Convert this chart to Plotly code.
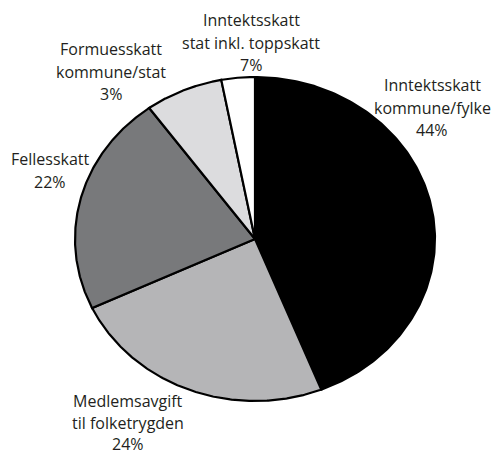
import numpy as np
import plotly.graph_objects as go

categories = ["Inntektsskatt kommune/fylke", "Medlemsavgift til folketrygden",
              "Fellesskatt", "Inntektsskatt stat inkl. toppskatt",
              "Formuesskatt kommune/stat"]
values = [44, 24, 22, 7, 3]
label_lines = [["Inntektsskatt", "kommune/fylke", "44%"],
               ["Medlemsavgift", "til folketrygden", "24%"],
               ["Fellesskatt", "22%"],
               ["Inntektsskatt", "stat inkl. toppskatt", "7%"],
               ["Formuesskatt", "kommune/stat", "3%"]]
colors = ["#000000", "#b5b5b7", "#78797b", "#dcdcde", "#ffffff"]

W, H = 498, 455
cx, cy = 255, 239      # pie centre in pixels
rx, ry = 180, 162      # horizontal / vertical radius in pixels

# label centres (pixels) and line spacing
label_pos = [(432, 85), (128, 401), (50, 159), (251, 20), (111, 49)]
line_gaps = [22.5, 21.5, 22.5, 22.5, 22.5]

fig = go.Figure()
total = sum(values)
start = 90.0
for cat, v, col in zip(categories, values, colors):
    end = start - v / total * 360.0
    th = np.radians(np.linspace(start, end, 200))
    xs = np.concatenate([[0], np.cos(th), [0]])
    ys = np.concatenate([[0], np.sin(th), [0]])
    fig.add_trace(go.Scatter(x=xs, y=ys, fill="toself", fillcolor=col,
                             mode="lines", line=dict(color="#000000", width=2.2),
                             name=cat, hoverinfo="name"))
    start = end

for lines, (px, py), gap in zip(label_lines, label_pos, line_gaps):
    for i, t in enumerate(lines):
        fig.add_annotation(text=t, xref="paper", yref="paper",
                           x=px / W, y=1 - (py + i * gap) / H,
                           xanchor="center", yanchor="middle", showarrow=False,
                           font=dict(family="Open Sans", size=16, color="#231f20"))

fig.update_layout(
    width=W, height=H, margin=dict(l=0, r=0, t=0, b=0),
    paper_bgcolor="white", plot_bgcolor="white", showlegend=False,
    xaxis=dict(range=[-cx / rx, (W - cx) / rx], visible=False, fixedrange=True),
    yaxis=dict(range=[-(H - cy) / ry, cy / ry], visible=False, fixedrange=True),
)
fig.write_html("out.html", config={"displayModeBar": False},
               post_script="document.body.style.margin='0';document.body.style.overflow='hidden';")
